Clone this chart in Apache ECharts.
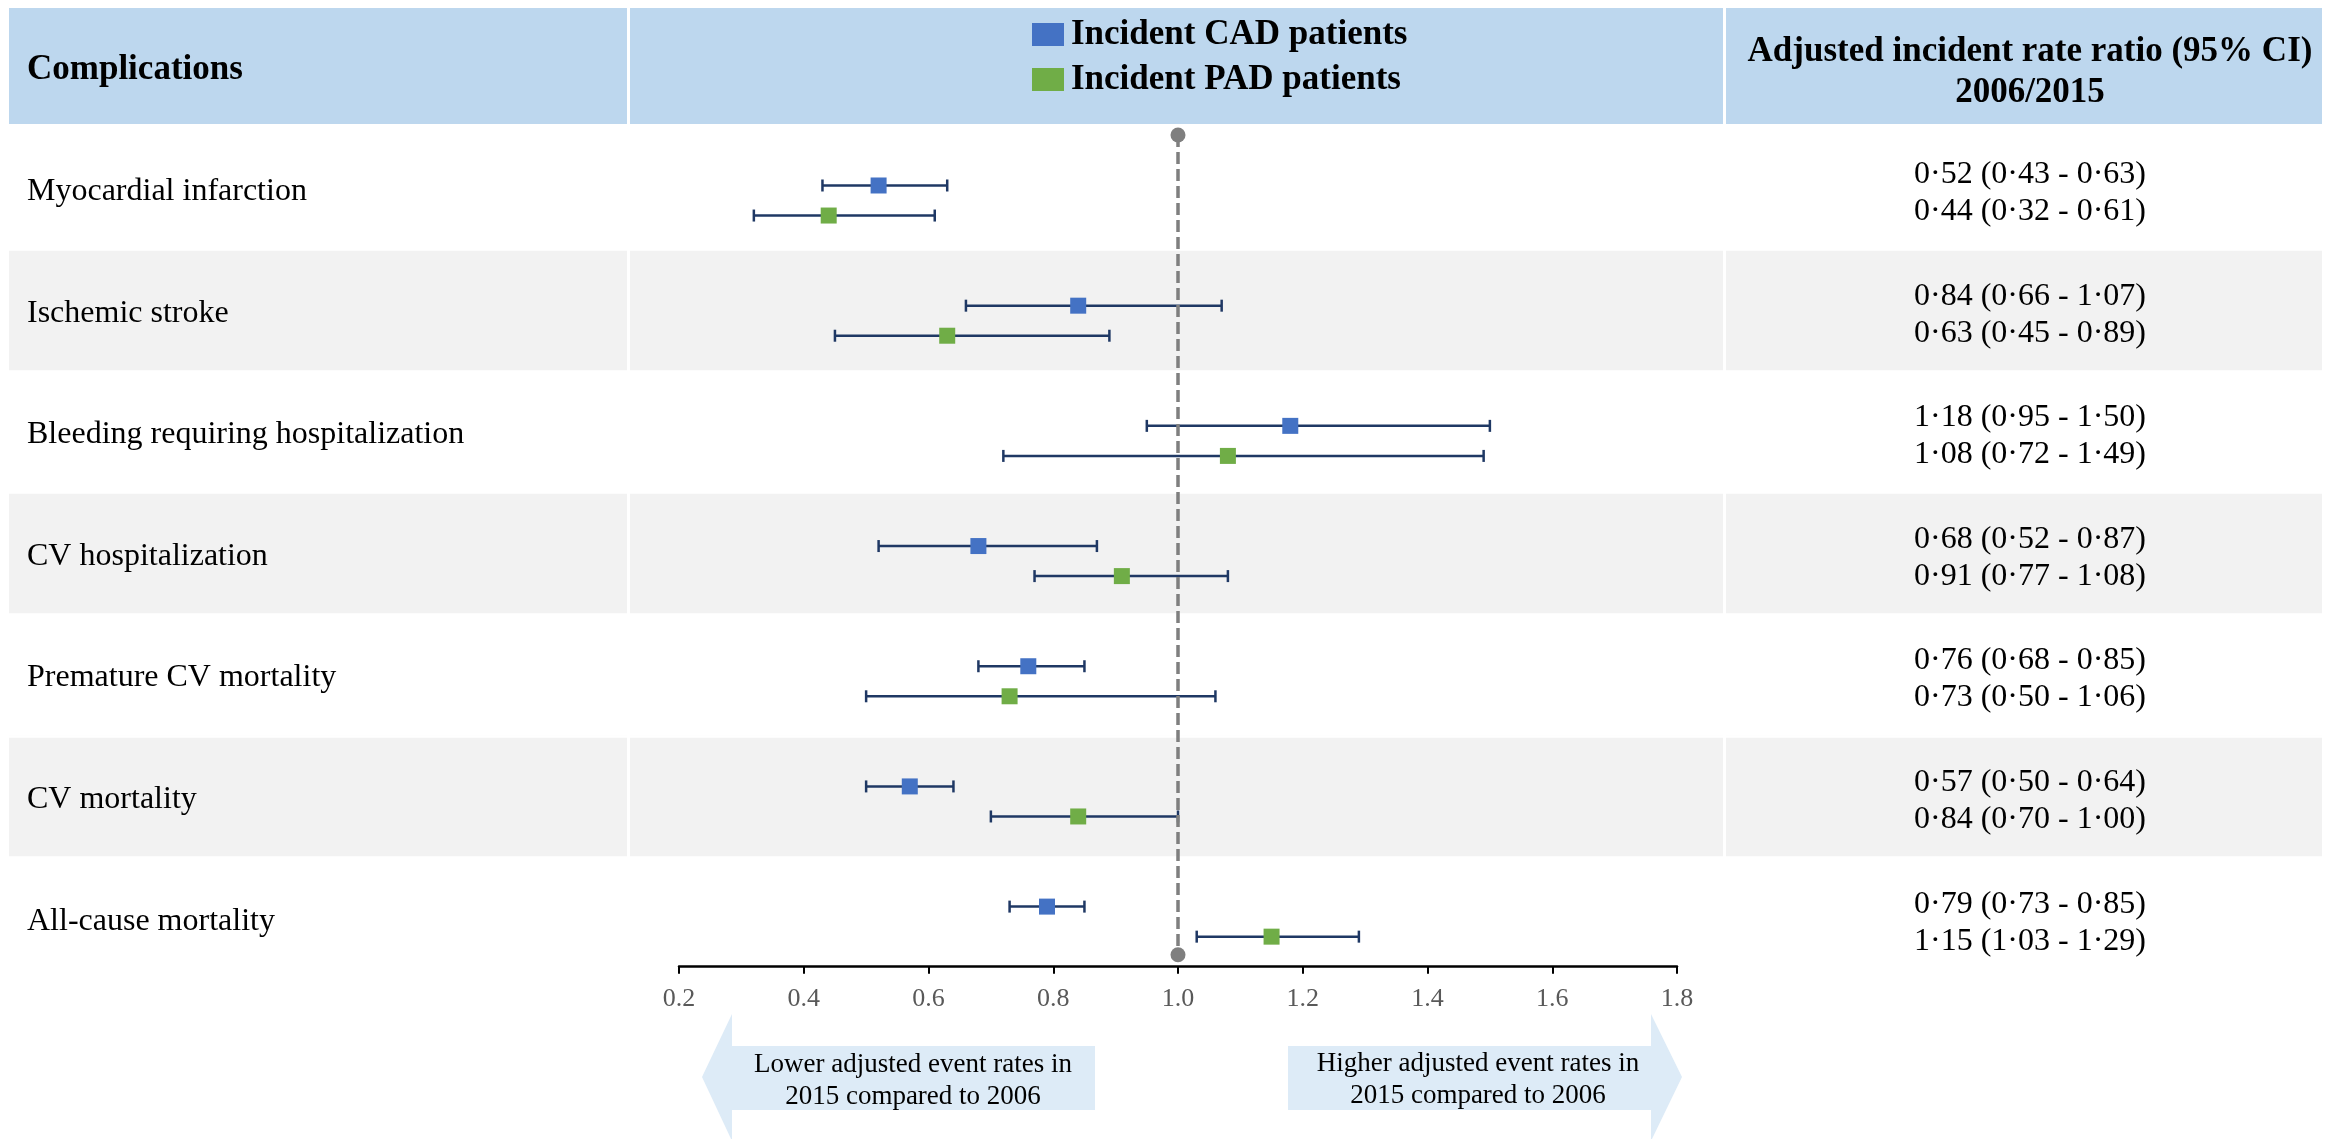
<!DOCTYPE html>
<html>
<head>
<meta charset="utf-8">
<script src="https://cdn.jsdelivr.net/npm/echarts@6/dist/echarts.min.js"></script>
<style>
html,body{margin:0;padding:0;background:#ffffff;}
#c{width:2326px;height:1139px;}
</style>
</head>
<body>
<div id="c"></div>
<script>
// ---------------- data ----------------
const categories = [
  'Myocardial infarction',
  'Ischemic stroke',
  'Bleeding requiring hospitalization',
  'CV hospitalization',
  'Premature CV mortality',
  'CV mortality',
  'All-cause mortality'
];
const seriesNames = ['Incident CAD patients', 'Incident PAD patients'];
const cadEst  = [0.52, 0.84, 1.18, 0.68, 0.76, 0.57, 0.79];
const cadLow  = [0.43, 0.66, 0.95, 0.52, 0.68, 0.50, 0.73];
const cadHigh = [0.63, 1.07, 1.50, 0.87, 0.85, 0.64, 0.85];
const padEst  = [0.44, 0.63, 1.08, 0.91, 0.73, 0.84, 1.15];
const padLow  = [0.32, 0.45, 0.72, 0.77, 0.50, 0.70, 1.03];
const padHigh = [0.61, 0.89, 1.49, 1.08, 1.06, 1.00, 1.29];
const xTicks  = [0.2, 0.4, 0.6, 0.8, 1.0, 1.2, 1.4, 1.6, 1.8];
const refValue = 1.0;
const headerLeft = 'Complications';
const headerRight = 'Adjusted incident rate ratio (95% CI)\n2006/2015';
const arrowLeftText = 'Lower adjusted event rates in\n2015 compared to 2006';
const arrowRightText = 'Higher adjusted event rates in\n2015 compared to 2006';

// ---------------- helpers ----------------
const FONT = '"Liberation Serif","Times New Roman",Times,serif';
const fmt = v => v.toFixed(2).replace('.', '\u00b7');
const ciText = (e, l, h) => fmt(e) + ' (' + fmt(l) + ' - ' + fmt(h) + ')';
const CAD_OFF = 0.5, PAD_OFF = 0.75;

const cadPts = cadEst.map((v, k) => [v, k + CAD_OFF]);
const padPts = padEst.map((v, k) => [v, k + PAD_OFF]);
const cadBars = cadLow.map((lo, k) => [lo, cadHigh[k], k + CAD_OFF]);
const padBars = padLow.map((lo, k) => [lo, padHigh[k], k + PAD_OFF]);
const rowIdx = categories.map((c, k) => [k]);

function renderBar(params, api) {
  const y = api.value(2);
  const p1 = api.coord([api.value(0), y]);
  const p2 = api.coord([api.value(1), y]);
  const h = 6;
  const style = { stroke: '#1f3864', lineWidth: 2.5 };
  return {
    type: 'group',
    children: [
      { type: 'line', shape: { x1: p1[0], y1: p1[1], x2: p2[0], y2: p2[1] }, style: style },
      { type: 'line', shape: { x1: p1[0], y1: p1[1] - h, x2: p1[0], y2: p1[1] + h }, style: style },
      { type: 'line', shape: { x1: p2[0], y1: p2[1] - h, x2: p2[0], y2: p2[1] + h }, style: style }
    ]
  };
}

// row label (left column)
function renderRowLabel(params, api) {
  const k = api.value(0);
  const p = api.coord([0, k]);
  return {
    type: 'text', x: p[0] + 18, y: p[1] + 3,
    style: {
      text: categories[k], fill: '#000', font: '32px ' + FONT,
      align: 'left', verticalAlign: 'middle'
    }
  };
}
// CI text (right column)
function renderRowCI(params, api) {
  const k = api.value(0);
  const p = api.coord([1, k]);
  return {
    type: 'text', x: p[0] - 292, y: p[1] + 4.5,
    style: {
      text: ciText(cadEst[k], cadLow[k], cadHigh[k]) + '\n' + ciText(padEst[k], padLow[k], padHigh[k]),
      fill: '#000', font: '32px ' + FONT, lineHeight: 37,
      align: 'center', verticalAlign: 'middle'
    }
  };
}

const chart = echarts.init(document.getElementById('c'), null, { renderer: 'canvas' });

const option = {
  animation: false,
  backgroundColor: '#ffffff',
  textStyle: { fontFamily: FONT },
  grid: [
    { left: 9, right: 4, top: 128, bottom: 160 },
    { left: 679, right: 649, top: 125.4, bottom: 172.3 }
  ],
  legend: {
    orient: 'vertical',
    left: 1032,
    top: 17,
    padding: 0,
    itemWidth: 32,
    itemHeight: 23,
    itemGap: 10,
    selectedMode: false,
    data: [
      { name: seriesNames[0], icon: 'rect' },
      { name: seriesNames[1], icon: 'rect' }
    ],
    textStyle: {
      fontFamily: FONT, fontSize: 35, fontWeight: 'bold', color: '#000',
      lineHeight: 35, padding: [0, 0, 0, 2]
    }
  },
  xAxis: [
    { gridIndex: 0, type: 'value', min: 0, max: 1, show: false },
    {
      gridIndex: 1, type: 'value', position: 'bottom',
      min: xTicks[0], max: xTicks[xTicks.length - 1], interval: 0.2,
      axisLine: { show: true, onZero: false, lineStyle: { color: '#000', width: 2.5 } },
      axisTick: { show: true, length: 7, lineStyle: { color: '#000', width: 2 } },
      splitLine: { show: false },
      axisLabel: {
        fontFamily: FONT, fontSize: 26, color: '#595959', margin: 19,
        formatter: v => v.toFixed(1)
      }
    }
  ],
  yAxis: [
    {
      gridIndex: 0, type: 'category', data: categories, inverse: true,
      position: 'left',
      axisLine: { show: false }, axisTick: { show: false },
      axisLabel: { show: false },
      splitArea: { show: true, interval: 0, areaStyle: { color: ['#ffffff', '#f2f2f2'] } },
      splitLine: { show: true, interval: 0, lineStyle: { color: '#ffffff', width: 2.5 } }
    },
    { gridIndex: 1, type: 'value', min: 0, max: categories.length, inverse: true, show: false }
  ],
  series: [
    {
      type: 'custom', name: 'rowLabels', xAxisIndex: 0, yAxisIndex: 0, z: 4,
      renderItem: renderRowLabel, data: rowIdx, encode: { y: 0 }, silent: true
    },
    {
      type: 'custom', name: 'rowCI', xAxisIndex: 0, yAxisIndex: 0, z: 4,
      renderItem: renderRowCI, data: rowIdx, encode: { y: 0 }, silent: true
    },
    {
      type: 'custom', name: 'cadCI', xAxisIndex: 1, yAxisIndex: 1, z: 3,
      renderItem: renderBar, data: cadBars, encode: { x: [0, 1], y: 2 }, silent: true
    },
    {
      type: 'custom', name: 'padCI', xAxisIndex: 1, yAxisIndex: 1, z: 3,
      renderItem: renderBar, data: padBars, encode: { x: [0, 1], y: 2 }, silent: true
    },
    {
      type: 'scatter', name: seriesNames[0], xAxisIndex: 1, yAxisIndex: 1, z: 5,
      symbol: 'rect', symbolSize: 16, data: cadPts,
      itemStyle: { color: '#4472c4', opacity: 1 },
      markLine: {
        silent: true, symbol: ['circle', 'circle'], symbolSize: 15,
        label: { show: false },
        lineStyle: { color: '#7f7f7f', type: [12, 5], width: 3.5 },
        itemStyle: { color: '#7f7f7f' },
        data: [[{ coord: [refValue, 0.08] }, { coord: [refValue, 6.9] }]]
      }
    },
    {
      type: 'scatter', name: seriesNames[1], xAxisIndex: 1, yAxisIndex: 1, z: 5,
      symbol: 'rect', symbolSize: 16, data: padPts,
      itemStyle: { color: '#70ad47', opacity: 1 }
    }
  ],
  graphic: [
    { type: 'rect', z: 0, shape: { x: 9, y: 8, width: 2313, height: 116 }, style: { fill: '#bdd7ee' } },
    { type: 'line', z: 3, shape: { x1: 628.5, y1: 8, x2: 628.5, y2: 979 }, style: { stroke: '#ffffff', lineWidth: 3 } },
    { type: 'line', z: 3, shape: { x1: 1724.5, y1: 8, x2: 1724.5, y2: 979 }, style: { stroke: '#ffffff', lineWidth: 3 } },
    {
      type: 'text', z: 5,
      style: {
        text: headerLeft, x: 27, y: 70, fill: '#000',
        font: 'bold 35px ' + FONT,
        align: 'left', verticalAlign: 'middle', textAlign: 'left', textVerticalAlign: 'middle'
      }
    },
    {
      type: 'text', z: 5,
      style: {
        text: headerRight, x: 2030, y: 72, fill: '#000',
        font: 'bold 35px ' + FONT, lineHeight: 41,
        align: 'center', verticalAlign: 'middle', textAlign: 'center', textVerticalAlign: 'middle'
      }
    },
    {
      type: 'polygon', z: 1,
      shape: { points: [[702, 1077], [732, 1014], [732, 1046], [1095, 1046], [1095, 1110], [732, 1110], [732, 1141]] },
      style: { fill: '#ddebf7' }
    },
    {
      type: 'polygon', z: 1,
      shape: { points: [[1288, 1046], [1651, 1046], [1651, 1014], [1682, 1077], [1651, 1141], [1651, 1110], [1288, 1110]] },
      style: { fill: '#ddebf7' }
    },
    {
      type: 'text', z: 5,
      style: {
        text: arrowLeftText, x: 913, y: 1081, fill: '#000',
        font: '27px ' + FONT, lineHeight: 32,
        align: 'center', verticalAlign: 'middle', textAlign: 'center', textVerticalAlign: 'middle'
      }
    },
    {
      type: 'text', z: 5,
      style: {
        text: arrowRightText, x: 1478, y: 1080, fill: '#000',
        font: '27px ' + FONT, lineHeight: 32,
        align: 'center', verticalAlign: 'middle', textAlign: 'center', textVerticalAlign: 'middle'
      }
    }
  ]
};

chart.setOption(option);
</script>
</body>
</html>
